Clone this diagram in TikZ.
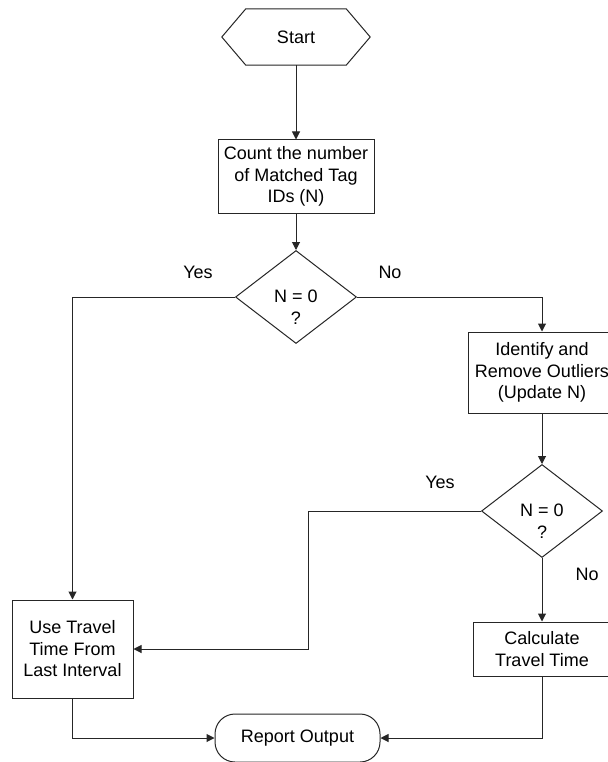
\documentclass[tikz,border=0pt]{standalone}
\usepackage{fontspec}
\setmainfont{Liberation Sans}
\usetikzlibrary{shapes.geometric,arrows.meta}
\begin{document}
\begin{tikzpicture}[x=1pt,y=-1pt,
  every node/.style={font=\fontsize{18}{21.5}\selectfont, inner sep=0pt, align=center},
  ln/.style={line width=1pt, draw=black!85},
  arw/.style={ln, -{Triangle[length=8pt,width=8pt]}},
  boxnode/.style={draw=black!85, line width=1pt, rectangle, fill=white},
  dia/.style={draw=black!85, line width=1pt, diamond, minimum width=121pt, minimum height=93pt},
  lbl/.style={}
]
\useasboundingbox[fill=white] (0,0) rectangle (607,762);

% Start hexagon
\node[minimum width=148pt, minimum height=56pt] (start) at (296,37) {Start};
\draw[ln] (start.west) -- ([xshift=24pt]start.north west) -- ([xshift=-24pt]start.north east)
  -- (start.east) -- ([xshift=-24pt]start.south east) -- ([xshift=24pt]start.south west) -- cycle;

\node[boxnode, minimum width=156pt, minimum height=73pt] (b1) at (296,176.5)
  {Count the number\\of Matched Tag\\IDs (N)};

\node[dia] (d1) at (296,297) {};
\node[yshift=-10pt] (d1t) at (d1) {N = 0\\?};

\node[boxnode, minimum width=148pt, minimum height=81pt] (b2) at (542,372.5)
  {Identify and\\Remove Outliers\\(Update N)};

\node[dia] (d2) at (542,511) {};
\node[yshift=-10pt] (d2t) at (d2) {N = 0\\?};

\node[boxnode, minimum width=121pt, minimum height=98pt] (b3) at (72.5,649)
  {Use Travel\\Time From\\Last Interval};

\node[boxnode, minimum width=138pt, minimum height=54pt] (b4) at (542,649)
  {Calculate\\Travel Time};

\node[draw=black!85, line width=1pt, rounded corners=20pt, minimum width=165pt, minimum height=48pt] (rep) at (297.5,738) {Report Output};

% labels
\node[lbl] (y1) at (198,272) {Yes};
\node[lbl] (n1) at (390,272) {No};
\node[lbl] (y2) at (440,482) {Yes};
\node[lbl] (n2) at (587,574) {No};

\coordinate (c1) at (308,511);

% connectors
\draw[arw] (start.south) -- (b1.north);
\draw[arw] (b1.south) -- (d1.north);
\draw[arw] (d1.west) -| (b3.north);
\draw[arw] (d1.east) -| (b2.north);
\draw[arw] (b2.south) -- (d2.north);
\draw[arw] (d2.west) -- (c1) |- (b3.east);
\draw[arw] (d2.south) -- (b4.north);
\draw[arw] (b3.south) |- (rep.west);
\draw[arw] (b4.south) |- (rep.east);
\end{tikzpicture}
\end{document}
